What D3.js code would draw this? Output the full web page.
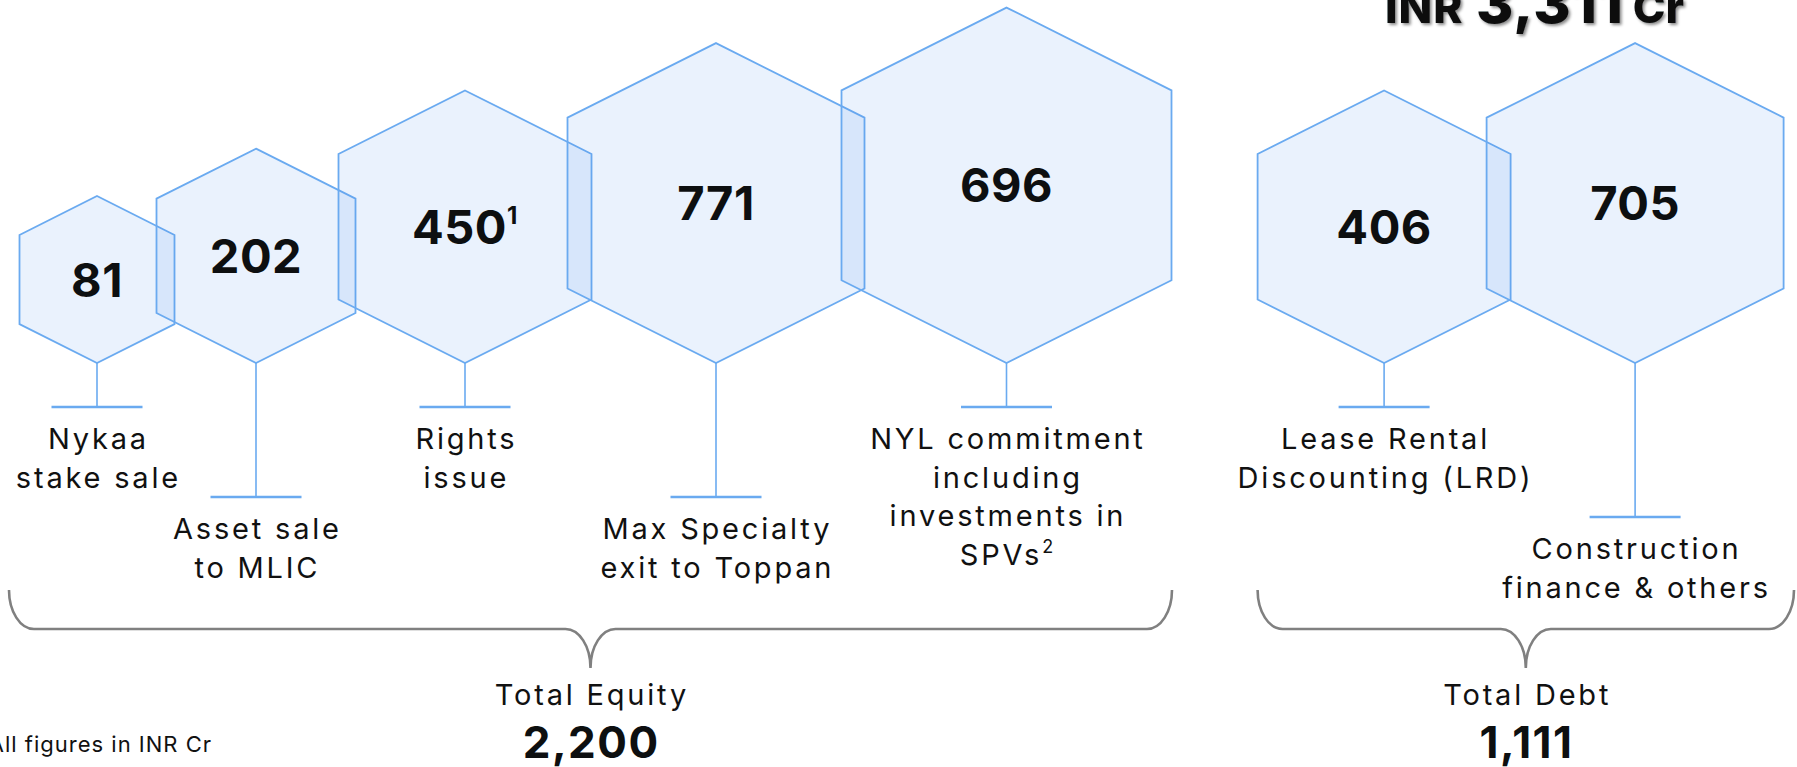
<!DOCTYPE html>
<html>
<head>
<meta charset="utf-8">
<script src="https://cdn.jsdelivr.net/npm/d3@7"></script>
<style>
  html, body { margin: 0; padding: 0; background: #fff; }
  svg { display: block; }
</style>
</head>
<body>
<svg id="chart"></svg>
<script>
// data (INR Cr)
var categories = ["Nykaa stake sale", "Asset sale to MLIC", "Rights issue", "Max Specialty exit to Toppan",
  "NYL commitment including investments in SPVs", "Lease Rental Discounting (LRD)", "Construction finance & others"]
var labelLines = [["Nykaa", "stake sale"], ["Asset sale", "to MLIC"], ["Rights", "issue"],
  ["Max Specialty", "exit to Toppan"], ["NYL commitment", "including", "investments in", "SPVs"],
  ["Lease Rental", "Discounting (LRD)"], ["Construction", "finance & others"]]
var values = [81, 202, 450, 771, 696, 406, 705]
var groups = ["Equity", "Equity", "Equity", "Equity", "Equity", "Debt", "Debt"]
var valueNotes = ["", "", "1", "", "", "", ""]
var labelNotes = ["", "", "", "", "2", "", ""]
var groupNames = ["Equity", "Debt"]
var groupTitles = ["Total Equity", "Total Debt"]

var width = 1797
var height = 767
var font = "Inter, 'Noto Sans', sans-serif"
var fmt = d3.format(",")

var svg = d3.select('#chart').attr('width', width).attr('height', height)

var defs = svg.append('defs')
defs.append('filter').attr('id', 'shadow')
  .attr('x', '-10%').attr('y', '-10%').attr('width', '130%').attr('height', '150%')
  .append('feDropShadow')
  .attr('dx', 2).attr('dy', 2).attr('stdDeviation', 1.5)
  .attr('flood-color', '#000').attr('flood-opacity', 0.45)

// hex sizes go up by slot inside each group
var baseY = 363
var widthScale = d3.scaleLinear().domain([0, 1, 2, 3, 4]).range([155, 199, 253, 297, 330])
var overlapScale = d3.scaleLinear().domain([1, 2, 3, 4]).range([18, 17, 24, 23])
var groupStart = d3.scaleOrdinal().domain(groupNames).range([19.5, 1257.6])
var tierOffset = d3.scaleOrdinal().domain(groupNames).range([0, 2])
var longTickY = d3.scaleOrdinal().domain(groupNames).range([497, 517])

var items = []
groupNames.forEach(function(g) {
  var left = groupStart(g)
  var k = 0
  values.forEach(function(v, i) {
    if (groups[i] !== g) return
    var tier = k + tierOffset(g)
    var w = widthScale(tier)
    if (k > 0) left -= overlapScale(tier)
    var h = w * 1.077
    items.push({
      i: i, group: g, value: v, tier: tier, w: w, h: h,
      left: left, cx: left + w / 2, top: baseY - h,
      tickY: k % 2 === 0 ? 407 : longTickY(g)
    })
    left += w
    k++
  })
})

function hexPoints(d) {
  var s = d.h * 0.233
  var l = d.cx - d.w / 2, r = d.cx + d.w / 2
  return [[d.cx, d.top], [r, d.top + s], [r, baseY - s], [d.cx, baseY], [l, baseY - s], [l, d.top + s]]
}
var hexLine = d3.line().curve(d3.curveLinearClosed)

// stems and ticks
var stems = svg.append('g').attr('class', 'stems')
stems.selectAll('line.stem').data(items).enter().append('line')
  .attr('class', 'stem')
  .attr('x1', function(d) { return d.cx }).attr('x2', function(d) { return d.cx })
  .attr('y1', baseY).attr('y2', function(d) { return d.tickY })
  .attr('stroke', '#6aaaf0').attr('stroke-width', 1.6)
stems.selectAll('line.tick').data(items).enter().append('line')
  .attr('class', 'tick')
  .attr('x1', function(d) { return d.cx - 45.5 }).attr('x2', function(d) { return d.cx + 45.5 })
  .attr('y1', function(d) { return d.tickY }).attr('y2', function(d) { return d.tickY })
  .attr('stroke', '#6aaaf0').attr('stroke-width', 2.4)

// hexagons
svg.append('g').attr('class', 'hexes')
  .selectAll('path').data(items).enter().append('path')
  .attr('d', function(d) { return hexLine(hexPoints(d)) })
  .attr('fill', '#5096ec').attr('fill-opacity', 0.12)
  .attr('stroke', '#6aaaf0').attr('stroke-width', 1.8)

// values in the hexes
var valText = svg.append('g').attr('class', 'values')
  .selectAll('text').data(items).enter().append('text')
  .attr('x', function(d) { return d.cx })
  .attr('y', function(d) { return (d.top + baseY) / 2 + 17 })
  .attr('text-anchor', 'middle')
  .attr('font-family', font).attr('font-weight', 700).attr('font-size', 47)
  .attr('letter-spacing', 0.5)
  .attr('fill', '#0d0f10')
valText.append('tspan').text(function(d) { return d.value })
valText.append('tspan')
  .attr('font-size', 24).attr('dy', -20)
  .text(function(d) { return valueNotes[d.i] })

// labels under the ticks
var labels = svg.append('g').attr('class', 'labels')
  .selectAll('text').data(items).enter().append('text')
  .attr('text-anchor', 'middle')
  .attr('font-family', font).attr('font-size', 29).attr('letter-spacing', 2.8)
  .attr('fill', '#111')
labels.each(function(d) {
  var t = d3.select(this)
  var lines = labelLines[d.i]
  lines.forEach(function(line, j) {
    t.append('tspan')
      .attr('x', d.cx + 1.4).attr('y', d.tickY + 42 + j * 38.5)
      .text(line)
    if (j === lines.length - 1 && labelNotes[d.i]) {
      t.append('tspan').attr('font-size', 18).attr('dy', -12).text(labelNotes[d.i])
    }
  })
})

// braces and totals
var braceExtent = d3.scaleOrdinal().domain(groupNames).range([[9, 1172], [1257.6, 1794]])
function bracePath(x0, x1) {
  var yTop = 590, yMid = 629, yTip = 668, rx = 25, ry = 39, kk = 0.5523
  var m = (x0 + x1) / 2
  var p = d3.path()
  p.moveTo(x0, yTop)
  p.bezierCurveTo(x0, yTop + kk * ry, x0 + rx - kk * rx, yMid, x0 + rx, yMid)
  p.lineTo(m - rx, yMid)
  p.bezierCurveTo(m - rx + kk * rx, yMid, m, yTip - kk * ry, m, yTip)
  p.moveTo(m, yTip)
  p.bezierCurveTo(m, yTip - kk * ry, m + rx - kk * rx, yMid, m + rx, yMid)
  p.lineTo(x1 - rx, yMid)
  p.bezierCurveTo(x1 - rx + kk * rx, yMid, x1, yTop + kk * ry, x1, yTop)
  return p.toString()
}

var totals = groupNames.map(function(g, gi) {
  var ext = braceExtent(g)
  return {
    group: g, title: groupTitles[gi], x0: ext[0], x1: ext[1], mid: (ext[0] + ext[1]) / 2,
    total: d3.sum(values.filter(function(v, i) { return groups[i] === g }))
  }
})

var braces = svg.append('g').attr('class', 'braces')
braces.selectAll('path').data(totals).enter().append('path')
  .attr('d', function(d) { return bracePath(d.x0, d.x1) })
  .attr('fill', 'none').attr('stroke', '#808080').attr('stroke-width', 2.6)
braces.selectAll('text.title').data(totals).enter().append('text')
  .attr('class', 'title')
  .attr('x', function(d) { return d.mid + 1.4 }).attr('y', 705)
  .attr('text-anchor', 'middle')
  .attr('font-family', font).attr('font-size', 29).attr('letter-spacing', 2.8).attr('fill', '#111')
  .text(function(d) { return d.title })
braces.selectAll('text.total').data(totals).enter().append('text')
  .attr('class', 'total')
  .attr('x', function(d) { return d.mid + 0.7 }).attr('y', 758)
  .attr('text-anchor', 'middle')
  .attr('font-family', font).attr('font-weight', 700).attr('font-size', 44).attr('letter-spacing', 1.5)
  .attr('fill', '#0d0f10')
  .text(function(d) { return fmt(d.total) })

// grand total at the top (cut by the frame)
var grand = svg.append('g').attr('filter', 'url(#shadow)')
  .attr('font-family', font).attr('font-weight', 800).attr('fill', '#0d0f10')
grand.append('text').attr('x', 1385).attr('y', 23).attr('font-size', 44).attr('letter-spacing', 1).text('INR')
grand.append('text').attr('x', 1550).attr('y', 23).attr('text-anchor', 'middle')
  .attr('font-size', 57).attr('letter-spacing', 1).text(fmt(d3.sum(values)))
grand.append('text').attr('x', 1684).attr('y', 23).attr('text-anchor', 'end').attr('font-size', 44).text('Cr')

svg.append('text')
  .attr('x', 212).attr('y', 752)
  .attr('text-anchor', 'end')
  .attr('font-family', font).attr('font-size', 22).attr('letter-spacing', 1)
  .attr('fill', '#111')
  .text('All figures in INR Cr')
</script>
</body>
</html>
